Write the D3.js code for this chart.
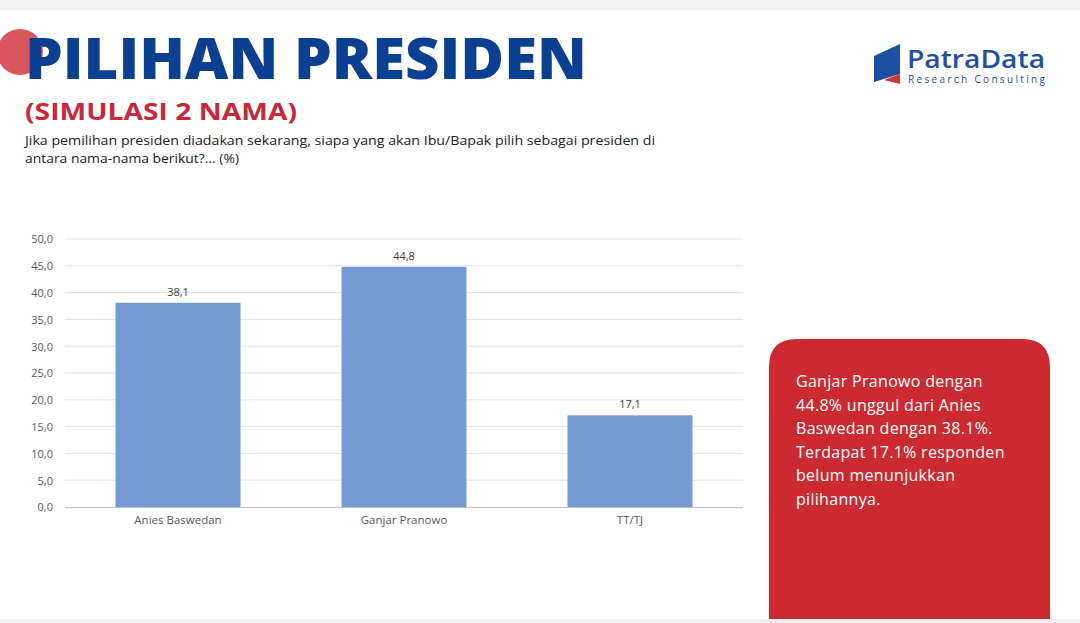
<!DOCTYPE html>
<html><head><meta charset="utf-8">
<script src="https://cdn.jsdelivr.net/npm/d3@7"></script>
<style>
html,body{margin:0;padding:0;background:#fff;}
svg{display:block;}
</style></head>
<body>
<script>
const categories = ["Anies Baswedan", "Ganjar Pranowo", "TT/TJ"];
const values = [38.1, 44.8, 17.1];
const valueLabels = ["38,1", "44,8", "17,1"];
const yTicks = [0, 5, 10, 15, 20, 25, 30, 35, 40, 45, 50];
const yTickLabels = ["0,0","5,0","10,0","15,0","20,0","25,0","30,0","35,0","40,0","45,0","50,0"];
const noteLines = ["Ganjar Pranowo dengan", "44.8% unggul dari Anies", "Baswedan dengan 38.1%.", "Terdapat 17.1% responden", "belum menunjukkan", "pilihannya."];

const W = 1080, H = 623;
const svg = d3.select("body").append("svg").attr("width", W).attr("height", H);
const font = "'Open Sans', 'Noto Sans', sans-serif";

// page bands
svg.append("rect").attr("x",0).attr("y",0).attr("width",W).attr("height",H).attr("fill","#f2f2f2");
svg.append("rect").attr("x",0).attr("y",10).attr("width",W).attr("height",609).attr("fill","#ffffff");

// red circle
svg.append("circle").attr("cx",20).attr("cy",52).attr("r",23).attr("fill","#d9565e");

// title
svg.append("text").attr("x",25).attr("y",79).text("PILIHAN PRESIDEN")
  .attr("font-family","'Open Sans', sans-serif").attr("font-weight",800).attr("font-size",54)
  .attr("fill","#0b3f92").attr("textLength",562).attr("lengthAdjust","spacingAndGlyphs")
  .attr("transform","translate(0,79) scale(1,1.05) translate(0,-79)");
svg.append("text").attr("x",25).attr("y",120).text("(SIMULASI 2 NAMA)")
  .attr("font-family","'Open Sans', sans-serif").attr("font-weight",700).attr("font-size",24)
  .attr("fill","#c9283a").attr("textLength",272).attr("lengthAdjust","spacingAndGlyphs");
svg.append("text").attr("x",25).attr("y",145).text("Jika pemilihan presiden diadakan sekarang, siapa yang akan Ibu/Bapak pilih sebagai presiden di")
  .attr("font-family",font).attr("font-size",12.5).attr("fill","#222").attr("textLength",630).attr("lengthAdjust","spacingAndGlyphs");
svg.append("text").attr("x",25).attr("y",163).text("antara nama-nama berikut?... (%)")
  .attr("font-family",font).attr("font-size",12.5).attr("fill","#222").attr("textLength",214).attr("lengthAdjust","spacingAndGlyphs");

// logo (single text lockup with two lines)
const logo = svg.append("g");
logo.append("path").attr("d","M874,56 L874,82 L900,74 L900,44 Z").attr("fill","#1e4fa3");
logo.append("path").attr("d","M884,80 L900,74 L900,84 Z").attr("fill","#d3323c");
const lt = logo.append("text").attr("fill","#1e4fa3").attr("font-family","'Open Sans', sans-serif");
lt.append("tspan").attr("x",907).attr("y",68).text("PatraData")
  .attr("font-weight",600).attr("font-size",25)
  .attr("textLength",138).attr("lengthAdjust","spacingAndGlyphs");
lt.append("tspan").attr("x",908).attr("y",83).text("Research Consulting")
  .attr("font-size",10).attr("font-weight",400)
  .attr("textLength",137).attr("lengthAdjust","spacing");

// chart
const x = d3.scaleBand().domain(categories).range([65, 743]).paddingInner(0.447).paddingOuter(0.2235);
const y = d3.scaleLinear().domain([0, 50]).range([507, 239]);

const g = svg.append("g");
g.selectAll("line.grid").data(yTicks.filter(d => d > 0)).join("line")
  .attr("x1",65).attr("x2",743).attr("y1",d=>y(d)).attr("y2",d=>y(d))
  .attr("stroke","#e3e3e3").attr("stroke-width",1);

const yAxis = d3.axisLeft(y).tickValues(yTicks).tickFormat((d,i)=>yTickLabels[i]).tickSize(0).tickPadding(0);
const ya = g.append("g").attr("transform","translate(53,0)").call(yAxis);
ya.select(".domain").remove();
ya.selectAll("text").attr("font-family",font).attr("font-size",11).attr("fill","#595959").attr("dy","0.35em");

g.selectAll("rect.bar").data(values).join("rect")
  .attr("x",(d,i)=>x(categories[i])).attr("width",x.bandwidth())
  .attr("y",d=>y(d)).attr("height",d=>y(0)-y(d)).attr("fill","#7599d2");

g.selectAll("text.val").data(values).join("text")
  .attr("x",(d,i)=>x(categories[i])+x.bandwidth()/2).attr("y",d=>y(d)-7)
  .attr("text-anchor","middle").text((d,i)=>valueLabels[i])
  .attr("font-family",font).attr("font-size",11).attr("fill","#404040");

const xAxis = d3.axisBottom(x).tickSize(0).tickPadding(0);
const xa = g.append("g").attr("transform","translate(0,507)").call(xAxis);
xa.select(".domain").attr("d","M65,0.5H743").attr("stroke","#bfbfbf");
xa.selectAll("text").attr("font-family",font).attr("font-size",11.5).attr("fill","#595959").attr("dy","1.5em");

// red note box
const bx=769, by=339, bw=281, bh=290, r=28;
svg.append("path").attr("d",`M${bx},${by+bh} V${by+r} Q${bx},${by} ${bx+r},${by} H${bx+bw-r} Q${bx+bw},${by} ${bx+bw},${by+r} V${by+bh} Z`)
  .attr("fill","#cc2a31");
svg.append("rect").attr("x",0).attr("y",619).attr("width",W).attr("height",4).attr("fill","#f2f2f2");
svg.selectAll("text.note").data(noteLines).join("text")
  .attr("x",796).attr("y",(d,i)=>387+i*23.6).text(d=>d)
  .attr("font-family",font).attr("font-size",16).attr("letter-spacing",0.3).attr("fill","#ffffff");
</script>
</body></html>
